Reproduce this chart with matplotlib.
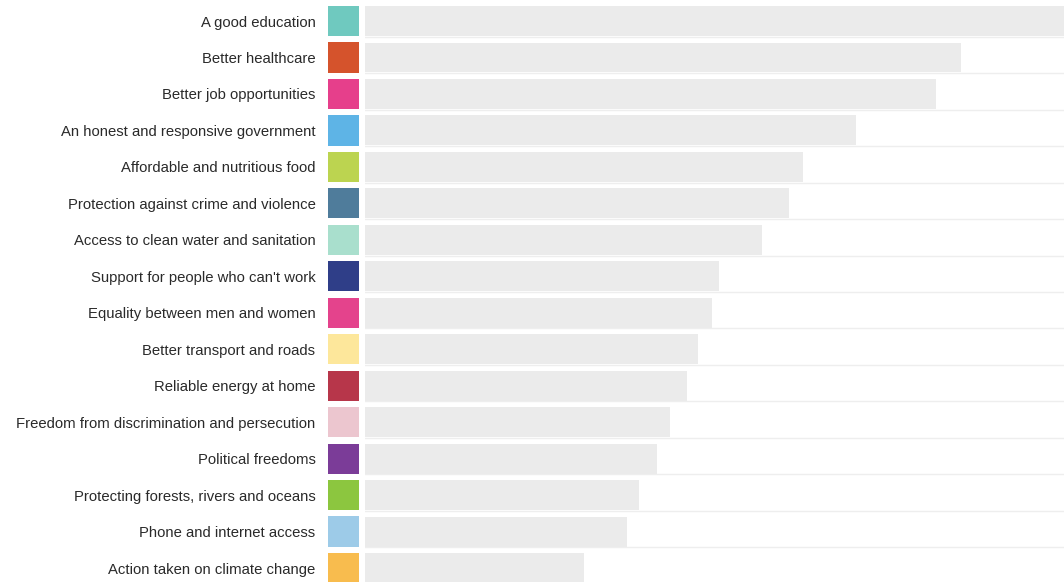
import matplotlib.pyplot as plt

plt.rcParams["font.family"] = ["Liberation Sans", "DejaVu Sans"]

CATEGORIES = [
    "A good education", "Better healthcare", "Better job opportunities",
    "An honest and responsive government", "Affordable and nutritious food",
    "Protection against crime and violence", "Access to clean water and sanitation",
    "Support for people who can't work", "Equality between men and women",
    "Better transport and roads", "Reliable energy at home",
    "Freedom from discrimination and persecution", "Political freedoms",
    "Protecting forests, rivers and oceans", "Phone and internet access",
    "Action taken on climate change",
]
VALUES = [70.0, 59.6, 57.1, 49.1, 43.8, 42.4, 39.7, 35.4,
          34.7, 33.3, 32.2, 30.5, 29.2, 27.4, 26.2, 21.9]
COLORS = ["#6fc9bf", "#d5532c", "#e63f8b", "#5eb4e6", "#bcd450", "#4f7c9b",
          "#a9dfcd", "#2f3e88", "#e4438c", "#fde79b", "#b7364a", "#ecc6cf",
          "#7b3c98", "#8cc63f", "#9dcbe8", "#f8bc4e"]

W, H = 1064, 582
fig = plt.figure(figsize=(W / 100, H / 100), dpi=100, facecolor="white")

n = len(CATEGORIES)
row_h = 36.47
top_c = 21
ylim = ((H - top_c) / row_h, -top_c / row_h)
rows = list(range(n))

# barras principais
ax = fig.add_axes([365 / W, 0, 1 - 365 / W, 1])
ax.barh(rows, VALUES, height=0.82, color="#ebebeb", zorder=2)
for r in rows:
    ax.axhline(r + 0.43, color="#eeeeee", lw=1, zorder=1)
ax.set_xlim(0, 69.9)
ax.set_ylim(*ylim)
ax.axis("off")

# quadrados de cor + rótulos
ax_sw = fig.add_axes([328 / W, 0, 31 / W, 1])
ax_sw.barh(rows, [1] * n, height=0.83, color=COLORS)
ax_sw.set_xlim(0, 1)
ax_sw.set_ylim(*ylim)
ax_sw.set_yticks(rows)
ax_sw.set_yticklabels(CATEGORIES, fontsize=10.7, color="#2a2a2a")
ax_sw.tick_params(axis="y", length=0, pad=9)
ax_sw.set_xticks([])
for s in ax_sw.spines.values():
    s.set_visible(False)

fig.savefig("out.png", dpi=100, facecolor="white")
